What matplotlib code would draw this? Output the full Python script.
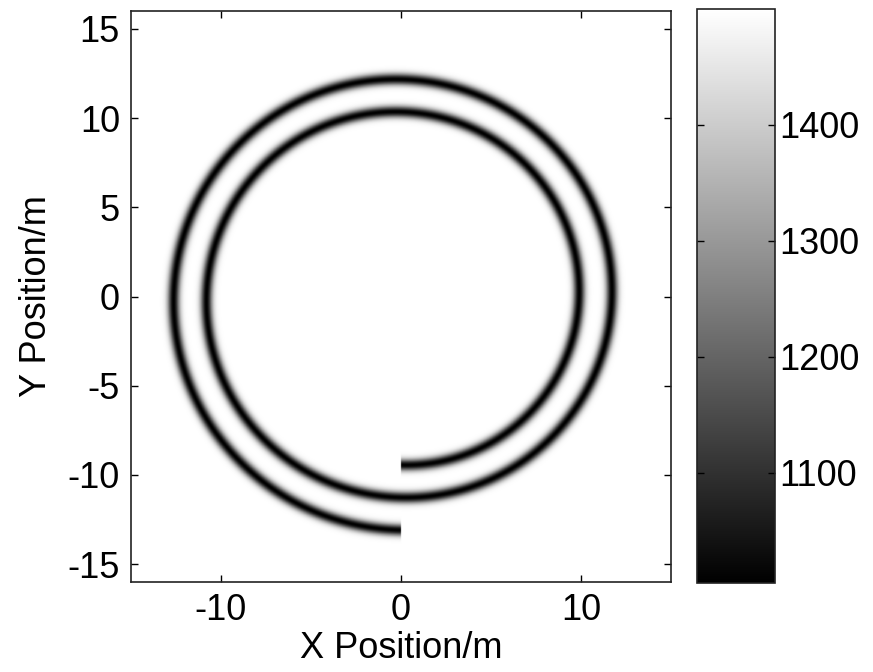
# Sound-speed map of a two-turn spiral channel, grayscale with colorbar.

import numpy as np
import matplotlib.pyplot as plt

#------ Values ------#
r_start = 9.45        # radius where the spiral begins (bottom, x = 0) [m]
pitch = 1.825         # radius gain per full turn [m]
n_turns = 2           # number of turns
c_background = 1500.  # speed outside the channel
c_core = 1005.        # speed on the channel axis
sigma = 0.32          # gaussian half-width of the channel [m]

x_lim = [-15, 15]
y_lim = [-16, 16]
x_ticks = [-10, 0, 10]
y_ticks = [-15, -10, -5, 0, 5, 10, 15]
cb_ticks = [1100, 1200, 1300, 1400]
#-----------------------------------------#

plt.rcParams['font.family'] = ['Liberation Sans', 'DejaVu Sans']
plt.rcParams['axes.unicode_minus'] = False
fs = 26

# Build the field on a grid
x = np.linspace(x_lim[0], x_lim[1], 900)
y = np.linspace(y_lim[0], y_lim[1], 960)
X, Y = np.meshgrid(x, y)
R = np.hypot(X, Y)
# angle measured counter-clockwise from the negative y axis
phi = np.mod(np.arctan2(Y, X) + np.pi/2, 2*np.pi)

dist = np.full(X.shape, np.inf)
for k in range(n_turns):
    theta = phi + 2*np.pi*k
    r_spiral = r_start + pitch*theta/(2*np.pi)
    dist = np.minimum(dist, np.abs(R - r_spiral))

C = c_background - (c_background - c_core)*np.exp(-(dist/sigma)**2)

fig = plt.figure(figsize=(8.73, 6.72), dpi=100)
ax = fig.add_axes([131/873, 1-582/672, 540/873, 571/672])
cax = fig.add_axes([697/873, 1-583/672, 78/873, 574/672])

im = ax.imshow(C, extent=[x_lim[0], x_lim[1], y_lim[0], y_lim[1]], origin='lower',
               cmap='gray', vmin=c_core, vmax=c_background, aspect='auto',
               interpolation='bilinear')
ax.set_xlim(x_lim)
ax.set_ylim(y_lim)
ax.set_xticks(x_ticks)
ax.set_yticks(y_ticks)
ax.tick_params(direction='in', length=5, width=1, labelsize=fs, top=True, right=True,
               pad=8)
ax.set_xlabel('X Position/m', fontsize=fs, labelpad=2)
ax.set_ylabel('Y Position/m', fontsize=fs, labelpad=10)
for s in ax.spines.values():
    s.set_linewidth(1.2)
    s.set_color('#222222')

cb = fig.colorbar(im, cax=cax)
cb.set_ticks(cb_ticks)
cb.ax.tick_params(direction='in', length=5, width=1, labelsize=fs, left=True, right=True,
                  pad=3)
cb.outline.set_linewidth(1.2)
cb.outline.set_edgecolor('#222222')

fig.savefig('out.png', dpi=100)
